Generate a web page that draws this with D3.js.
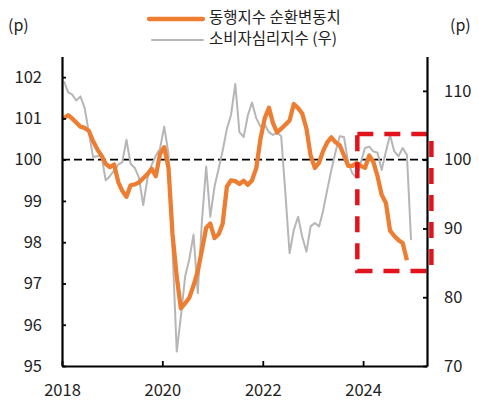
<!DOCTYPE html>
<html>
<head>
<meta charset="utf-8">
<script src="https://cdn.jsdelivr.net/npm/d3@7"></script>
<style>
    body { margin: 0; background: #fff; }
    text { font-family: "Noto Sans CJK KR", "Noto Sans", sans-serif; fill: #222; }
</style>
</head>
<body>
<div id="chart"></div>
<script>
// 월별 데이터 (2018.01 ~)
const startYear = 2018;
const seriesNames = ['동행지수 순환변동치', '소비자심리지수 (우)'];

// 동행지수 순환변동치 (좌축), 2018.01 ~ 2024.11
const coincident = [
    101.0, 101.08, 101.0, 100.9, 100.8, 100.77, 100.7, 100.45, 100.25, 100.1, 99.9, 99.82,
    99.88, 99.45, 99.25, 99.1, 99.38, 99.4, 99.45, 99.55, 99.65, 99.78, 99.6, 100.14,
    100.3, 99.8, 98.2, 97.16, 96.4, 96.52, 96.65, 96.95, 97.3, 97.8, 98.35, 98.45,
    98.1, 98.2, 98.45, 99.35, 99.5, 99.48, 99.41, 99.49, 99.39, 99.5, 99.8, 100.5,
    101.0, 101.26, 100.9, 100.66, 100.75, 100.85, 100.95, 101.35, 101.25, 101.12, 100.75, 100.1,
    99.8, 99.93, 100.2, 100.42, 100.54, 100.42, 100.35, 100.1, 99.85, 99.85, 99.92, 99.85,
    99.8, 100.1, 99.95, 99.6, 99.15, 98.95, 98.28, 98.15, 98.05, 97.98, 97.56
];

// 소비자심리지수 (우축), 2018.01 ~ 2024.12
const sentiment = [
    111.4, 109.8, 109.5, 108.6, 109.2, 107.5, 104.0, 100.4, 100.5, 100.6, 97.0, 97.6,
    98.4, 99.3, 99.6, 102.9, 99.4, 98.8, 97.4, 93.4, 97.3, 99.2, 100.6, 101.6,
    104.8, 100.8, 87.0, 72.1, 77.2, 83.0, 85.5, 89.1, 80.6, 91.0, 99.0, 91.7,
    96.1, 98.8, 101.3, 104.5, 106.5, 111.0, 104.0, 103.3, 106.5, 108.3, 106.0, 104.8,
    105.1, 104.0, 103.6, 103.9, 103.4, 95.0, 86.4, 89.8, 91.7, 88.8, 86.6, 90.3,
    90.8, 90.3, 92.5, 95.6, 98.5, 101.2, 103.4, 103.3, 99.5, 98.0, 97.4, 99.6,
    101.7, 101.9, 101.2, 101.0, 98.5, 101.2, 103.6, 101.2, 100.5, 101.7, 100.7, 88.3
];

const leftTicks = [95, 96, 97, 98, 99, 100, 101, 102];
const rightTicks = [70, 80, 90, 100, 110];
const yearTicks = [2018, 2020, 2022, 2024];

// 강조 박스 (2023.11 ~ , 좌축 기준)
const boxFrom = [2023, 10, 20];
const boxTo = [2025, 5, 12];
const boxTop = 100.62;
const boxBottom = 97.3;

document.addEventListener('DOMContentLoaded', function() {
    const width = 479;
    const height = 405;
    const margin = { left: 62, right: 52, top: 56.5, bottom: 39 };

    const svg = d3.select('#chart')
        .append('svg')
        .attr('width', width)
        .attr('height', height);

    const monthDate = i => new Date(startYear, i, 15);

    const x = d3.scaleTime()
        .domain([new Date(startYear, 0, 1), new Date(2025, 3, 10)])
        .range([margin.left, width - margin.right]);

    const yL = d3.scaleLinear()
        .domain([95, 102.5])
        .range([height - margin.bottom, margin.top]);

    const yR = d3.scaleLinear()
        .domain([70, 115])
        .range([height - margin.bottom, margin.top]);

    // 100 기준선
    svg.append('line')
        .attr('x1', x.range()[0])
        .attr('x2', x.range()[1])
        .attr('y1', yL(100))
        .attr('y2', yL(100))
        .attr('stroke', '#000')
        .attr('stroke-width', 1.8)
        .attr('stroke-dasharray', '8,4');

    // 소비자심리지수
    const lineR = d3.line()
        .x((d, i) => x(monthDate(i)))
        .y(d => yR(d));

    svg.append('path')
        .datum(sentiment)
        .attr('d', lineR)
        .attr('fill', 'none')
        .attr('stroke', '#b6b6b6')
        .attr('stroke-width', 2)
        .attr('stroke-linejoin', 'round');

    // 동행지수 순환변동치
    const lineL = d3.line()
        .x((d, i) => x(monthDate(i)))
        .y(d => yL(d));

    svg.append('path')
        .datum(coincident)
        .attr('d', lineL)
        .attr('fill', 'none')
        .attr('stroke', '#ed7d31')
        .attr('stroke-width', 4.3)
        .attr('stroke-linejoin', 'round');

    // 빨간 점선 박스
    const bx0 = x(new Date(boxFrom[0], boxFrom[1], boxFrom[2]));
    const bx1 = x(new Date(boxTo[0], boxTo[1] - 1, boxTo[2]));
    svg.append('rect')
        .attr('x', bx0)
        .attr('y', yL(boxTop))
        .attr('width', bx1 - bx0)
        .attr('height', yL(boxBottom) - yL(boxTop))
        .attr('fill', 'none')
        .attr('stroke', '#e3131b')
        .attr('stroke-width', 4.5)
        .attr('stroke-dasharray', '16,11');

    // 축
    const axisL = d3.axisLeft(yL)
        .tickValues(leftTicks)
        .tickSize(-4)
        .tickSizeOuter(0)
        .tickPadding(20);

    const axisR = d3.axisRight(yR)
        .tickValues(rightTicks)
        .tickSize(-4)
        .tickSizeOuter(0)
        .tickPadding(17);

    const axisB = d3.axisBottom(x)
        .tickValues(yearTicks.map(y => new Date(y, 0, 1)))
        .tickFormat(d3.timeFormat('%Y'))
        .tickSize(-5)
        .tickSizeOuter(0)
        .tickPadding(18);

    [[axisL, 'translate(' + margin.left + ',0)'],
     [axisR, 'translate(' + (width - margin.right) + ',0)'],
     [axisB, 'translate(0,' + (height - margin.bottom) + ')']].forEach(function(a) {
        const g = svg.append('g')
            .attr('transform', a[1])
            .call(a[0]);
        g.select('.domain').attr('stroke', '#000').attr('stroke-width', 2.2);
        g.selectAll('.tick line').attr('stroke', '#000').attr('stroke-width', 1.8);
        g.selectAll('.tick text')
            .attr('font-family', '"Noto Sans CJK KR", sans-serif')
            .attr('font-size', 16.5)
            .attr('fill', '#222');
    });

    // 단위
    svg.append('text').attr('x', 8).attr('y', 27)
        .attr('dominant-baseline', 'middle').attr('font-size', 16).text('(p)');
    svg.append('text').attr('x', 450).attr('y', 27)
        .attr('dominant-baseline', 'middle').attr('font-size', 16).text('(p)');

    // 범례
    const legend = [
        { name: seriesNames[0], color: '#ed7d31', w: 4.3, x0: 149, y: 19 },
        { name: seriesNames[1], color: '#b6b6b6', w: 2, x0: 152, y: 40 }
    ];
    legend.forEach(function(d) {
        svg.append('line')
            .attr('x1', d.x0).attr('x2', 203)
            .attr('y1', d.y).attr('y2', d.y)
            .attr('stroke', d.color)
            .attr('stroke-width', d.w)
            .attr('stroke-linecap', 'round');
        svg.append('text')
            .attr('x', 209).attr('y', d.y)
            .attr('dominant-baseline', 'middle')
            .attr('font-size', 15.5)
            .text(d.name);
    });
});
</script>
</body>
</html>
